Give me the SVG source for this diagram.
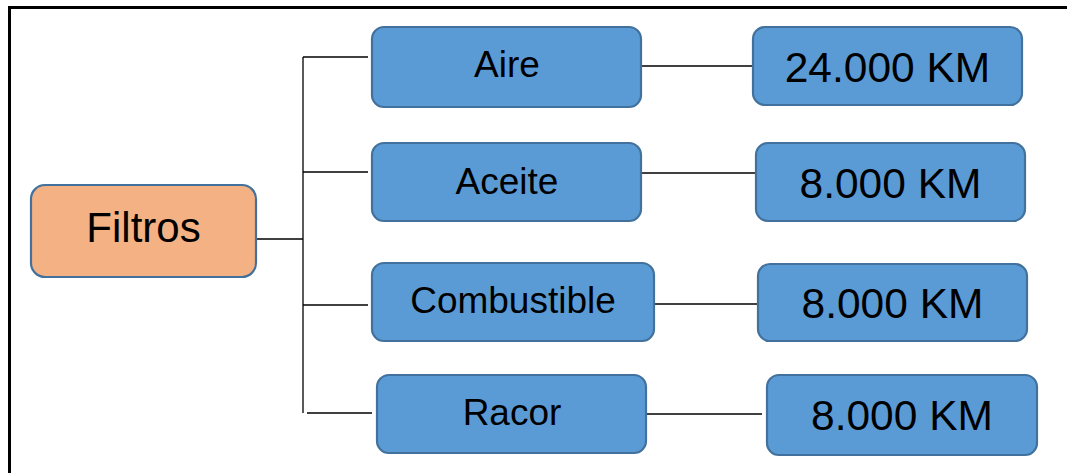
<svg xmlns="http://www.w3.org/2000/svg" width="1067" height="473" viewBox="0 0 1067 473">
  <style>
    .node { fill: #5B9BD5; stroke: #41719C; stroke-width: 2.2; }
    .root { fill: #F4B183; stroke: #41719C; stroke-width: 2.2; }
    .lbl { font-family: "Liberation Sans", Arial, sans-serif; fill: #000; text-anchor: middle; }
    .name { font-size: 37px; }
    .km { font-size: 42.5px; }
    .link { stroke: #000; stroke-width: 1.3; fill: none; }
    .frame { stroke: #000; stroke-width: 3; fill: none; }
  </style>
  <rect width="1067" height="473" fill="#fff"/>
  <!-- page frame: top and left edges -->
  <path class="frame" d="M9.5,473 V7.5 H1067"/>

  <g id="connectors">
    <path class="link" d="M256,239 H303"/>
    <path class="link" d="M303,57 V413"/>
    <path class="link" d="M303,57 H368"/>
    <path class="link" d="M303,172 H368"/>
    <path class="link" d="M303,305 H368"/>
    <path class="link" d="M307,413 H372"/>
    <path class="link" d="M641,66 H753"/>
    <path class="link" d="M641,173 H756"/>
    <path class="link" d="M654,304 H758"/>
    <path class="link" d="M646,414 H762"/>
  </g>

  <g id="filtros">
    <rect class="root" x="31" y="185" width="225" height="92" rx="14"/>
    <text class="lbl" x="143.5" y="242" font-size="42">Filtros</text>
  </g>

  <g id="aire">
    <rect class="node" x="372" y="27" width="269" height="80" rx="12"/>
    <text class="lbl name" x="507" y="77">Aire</text>
  </g>
  <g id="aceite">
    <rect class="node" x="372" y="143" width="269" height="78" rx="12"/>
    <text class="lbl name" x="507" y="194">Aceite</text>
  </g>
  <g id="combustible">
    <rect class="node" x="372" y="263" width="282" height="78" rx="12"/>
    <text class="lbl name" x="513" y="313">Combustible</text>
  </g>
  <g id="racor">
    <rect class="node" x="377" y="375" width="269" height="78" rx="12"/>
    <text class="lbl name" x="512" y="425">Racor</text>
  </g>

  <g id="km-aire">
    <rect class="node" x="753" y="27" width="269" height="78" rx="12"/>
    <text class="lbl km" x="887.5" y="82">24.000 KM</text>
  </g>
  <g id="km-aceite">
    <rect class="node" x="756" y="143" width="269" height="78" rx="12"/>
    <text class="lbl km" x="890.5" y="198">8.000 KM</text>
  </g>
  <g id="km-combustible">
    <rect class="node" x="758" y="264" width="269" height="77" rx="12"/>
    <text class="lbl km" x="892.5" y="318">8.000 KM</text>
  </g>
  <g id="km-racor">
    <rect class="node" x="767" y="375" width="270" height="80" rx="12"/>
    <text class="lbl km" x="902" y="430">8.000 KM</text>
  </g>
</svg>
